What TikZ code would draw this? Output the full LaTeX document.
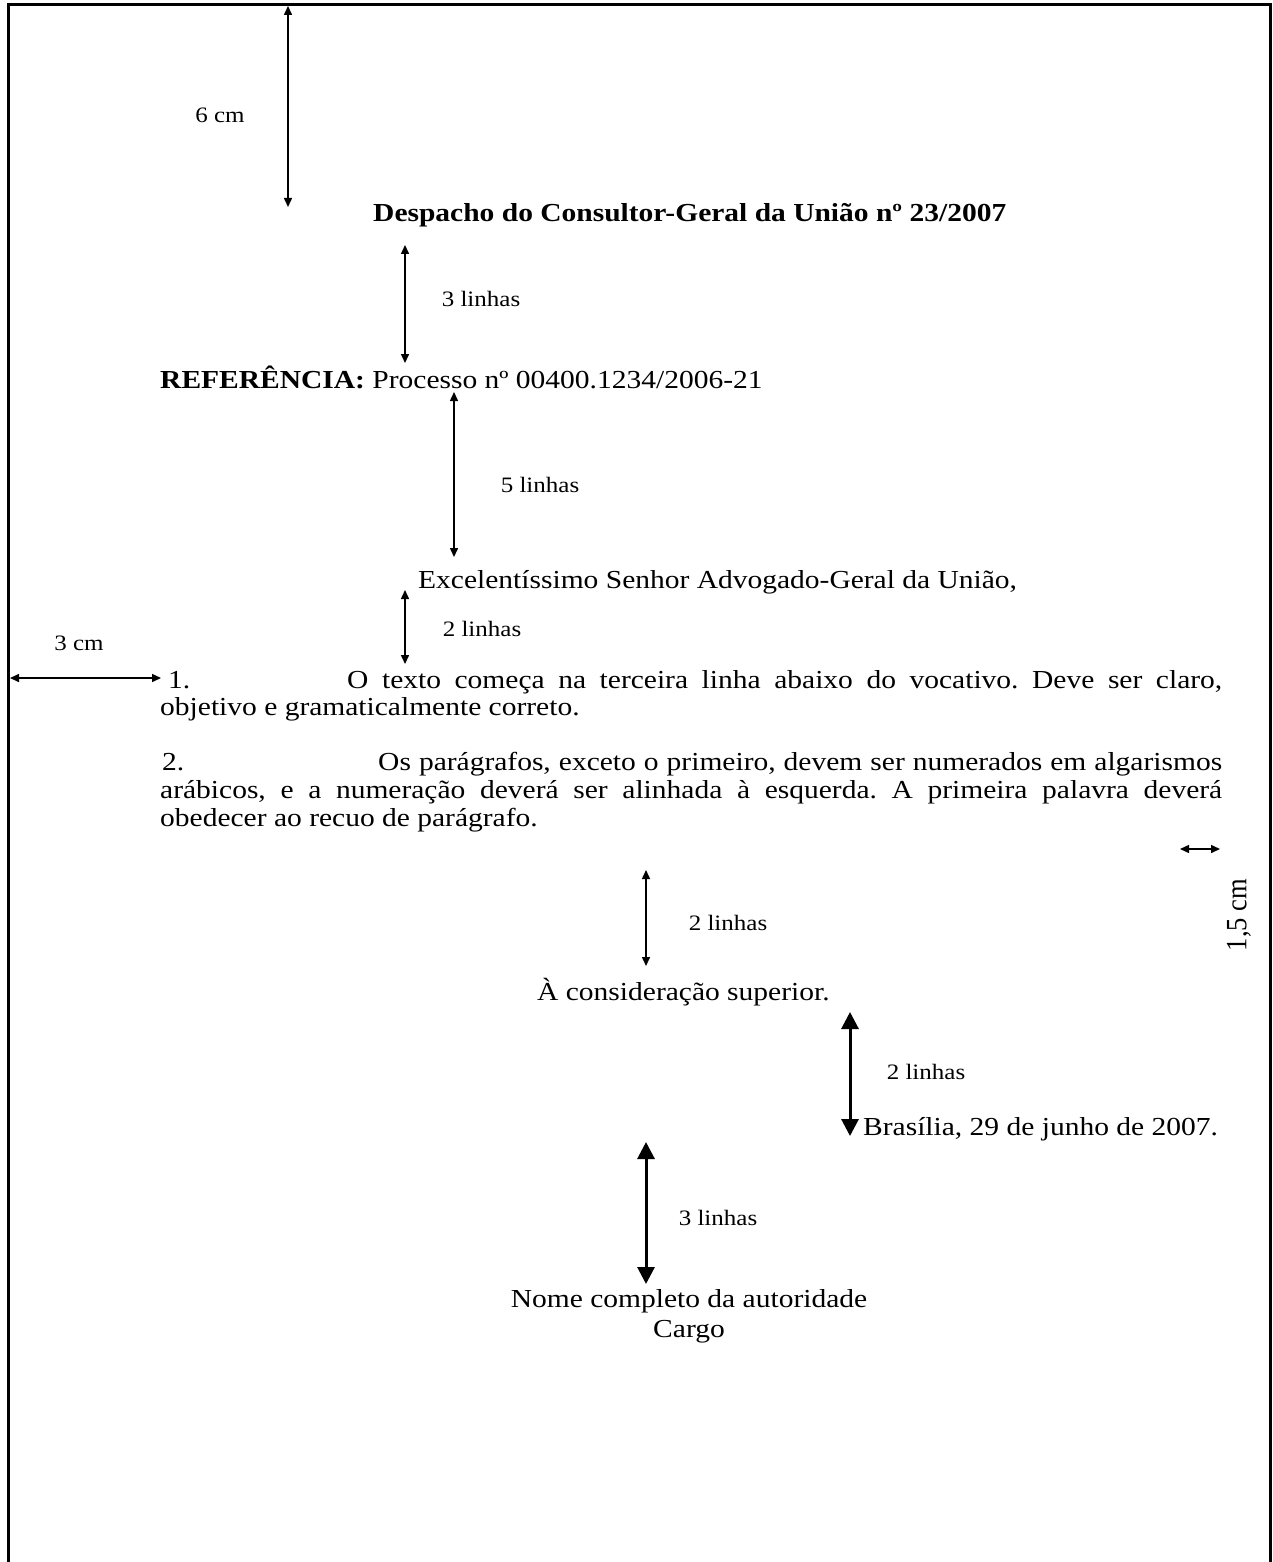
\documentclass[tikz,border=0pt]{standalone}
\usepackage{fontspec}
\setmainfont{Liberation Serif}
\usetikzlibrary{arrows.meta}
\frenchspacing
\newcommand{\vsq}[1]{\scalebox{1}[0.88]{#1}}
\tikzset{
  txt/.style={anchor=base west, inner sep=0pt, font=\fontsize{29.5}{30}\selectfont},
  txtc/.style={anchor=base, inner sep=0pt, font=\fontsize{29.5}{30}\selectfont},
  lbl/.style={inner sep=0pt, font=\fontsize{25}{30}\selectfont},
  thinarrow/.style={line width=1.5pt, {Triangle[length=9pt,width=8pt]}-{Triangle[length=9pt,width=8pt]}},
  thickarrow/.style={line width=3pt, {Triangle[length=17pt,width=17pt]}-{Triangle[length=17pt,width=17pt]}},
  frame/.style={line width=3pt}
}
\begin{document}
\begin{tikzpicture}[x=1pt,y=-1pt]
\useasboundingbox (0,0) rectangle (1273,1562);
\fill[white] (0,0) rectangle (1273,1562);
% page frame
\draw[frame] (8,1562) -- (8,5) -- (1270,5) -- (1270,1562);

% texts
\node[txt] (title) at (373,222) {\vsq{\textbf{Despacho do Consultor-Geral da União nº 23/2007}}};
\node[txt] (ref) at (160,388) {\vsq{\textbf{REFERÊNCIA:} Processo nº 00400.1234/2006-21}};
\node[txt] (voc) at (418,588) {\vsq{Excelentíssimo Senhor Advogado-Geral da União,}};
\node[txt] (n1) at (168,688) {\vsq{1.}};
\node[txt] (p1a) at (347,688) {\vsq{\makebox[875pt][s]{O texto começa na terceira linha abaixo do vocativo. Deve ser claro,}}};
\node[txt] (p1b) at (160,715) {\vsq{objetivo e gramaticalmente correto.}};
\node[txt] (n2) at (162,770) {\vsq{2.}};
\node[txt] (p2a) at (378,770) {\vsq{\makebox[844pt][s]{Os parágrafos, exceto o primeiro, devem ser numerados em algarismos}}};
\node[txt] (p2b) at (160,798) {\vsq{\makebox[1062pt][s]{arábicos, e a numeração deverá ser alinhada à esquerda. A primeira palavra deverá}}};
\node[txt] (p2c) at (160,826) {\vsq{obedecer ao recuo de parágrafo.}};
\node[txt] (fecho) at (537,1000) {\vsq{À consideração superior.}};
\node[txt] (data) at (863,1135) {\vsq{Brasília, 29 de junho de 2007.}};
\node[txtc] (nome) at (689,1307) {\vsq{Nome completo da autoridade}};
\node[txtc] (cargo) at (689,1337) {\vsq{Cargo}};

% labels
\node[lbl] (l6cm) at (220,115) {\vsq{6 cm}};
\node[lbl] (l3lin) at (481,299) {\vsq{3 linhas}};
\node[lbl] (l5lin) at (540,485) {\vsq{5 linhas}};
\node[lbl] (l2lina) at (482,629) {\vsq{2 linhas}};
\node[lbl] (l3cm) at (79,643) {\vsq{3 cm}};
\node[inner sep=0pt, font=\fontsize{29.5}{30}\selectfont, rotate=90] (l15cm) at (1239,915) {\scalebox{0.9}[1]{1,5 cm}};
\node[lbl] (l2linb) at (728,923) {\vsq{2 linhas}};
\node[lbl] (l2linc) at (926,1072) {\vsq{2 linhas}};
\node[lbl] (l3lind) at (718,1218) {\vsq{3 linhas}};

% arrow end points
\coordinate (a6t) at (288,6);
\coordinate (a6b) at (288,207);
\coordinate (a3t) at (405,245);
\coordinate (a3b) at (405,363);
\coordinate (a5t) at (454,392);
\coordinate (a5b) at (454,557);
\coordinate (a2t) at (405,590);
\coordinate (a2b) at (405,664);
\coordinate (acl) at (10,678);
\coordinate (acr) at (161,678);
\coordinate (a15l) at (1180,849);
\coordinate (a15r) at (1220,849);
\coordinate (b2t) at (646,870);
\coordinate (b2b) at (646,966);
\coordinate (c2t) at (850,1012);
\coordinate (c2b) at (850,1136);
\coordinate (d3t) at (646,1142);
\coordinate (d3b) at (646,1284);

% arrows
\draw[thinarrow] (a6t) -- (a6b);
\draw[thinarrow] (a3t) -- (a3b);
\draw[thinarrow] (a5t) -- (a5b);
\draw[thinarrow] (a2t) -- (a2b);
\draw[thinarrow] (acl) -- (acr);
\draw[thinarrow] (a15l) -- (a15r);
\draw[thinarrow] (b2t) -- (b2b);
\draw[thickarrow] (c2t) -- (c2b);
\draw[thickarrow] (d3t) -- (d3b);
\end{tikzpicture}
\end{document}
